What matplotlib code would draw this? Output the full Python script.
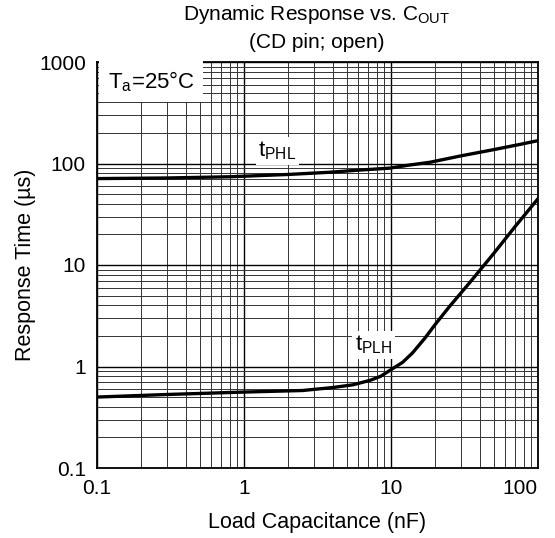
import numpy as np
import matplotlib.pyplot as plt
from matplotlib.ticker import LogLocator, FixedLocator, FixedFormatter

plt.rcParams['font.family'] = ['Liberation Sans', 'DejaVu Sans']

# load capacitance (nF) and response times (us)
c_phl = [0.1, 0.3, 0.8, 2, 3.85, 6, 9.8, 13, 18.5, 30, 50, 75, 100]
t_phl = [71, 72, 74, 78, 82, 86, 90, 96, 103, 119, 137, 154, 168]
c_plh = [0.1, 0.3, 1, 2.5, 4, 5.5, 7.2, 8.5, 10, 12, 14, 17, 20, 25, 34, 50, 70, 100]
t_plh = [0.5, 0.53, 0.56, 0.58, 0.62, 0.66, 0.73, 0.8, 0.93, 1.1, 1.36, 1.9, 2.6, 3.9, 6.6, 13, 24, 45]

xticks = [0.1, 1, 10, 100]
xlabels = ['0.1', '1', '10', '100']
yticks = [0.1, 1, 10, 100, 1000]
ylabels = ['0.1', '1', '10', '100', '1000']

fig = plt.figure(figsize=(5.55, 5.38), dpi=100)
ax = fig.add_axes([97/555, 70/538, 441/555, 406/538])

ax.set_xscale('log')
ax.set_yscale('log')
ax.set_xlim(0.1, 100)
ax.set_ylim(0.1, 1000)

ax.xaxis.set_major_locator(FixedLocator(xticks))
ax.xaxis.set_major_formatter(FixedFormatter(xlabels))
ax.yaxis.set_major_locator(FixedLocator(yticks))
ax.yaxis.set_major_formatter(FixedFormatter(ylabels))
ax.xaxis.set_minor_locator(LogLocator(base=10, subs=np.arange(2, 10)))
ax.yaxis.set_minor_locator(LogLocator(base=10, subs=np.arange(2, 10)))
ax.tick_params(which='both', length=0, labelsize=15, pad=8)

ax.grid(which='major', color='black', lw=1.0)
ax.grid(which='minor', color='#333333', lw=0.7)
ax.set_axisbelow(True)
for s in ax.spines.values():
    s.set_linewidth(1.3)

ax.plot(c_phl, t_phl, color='black', lw=2.4)
ax.plot(c_plh, t_plh, color='black', lw=2.4)

ax.text(1.25, 134, r'$\mathregular{t_{PHL}}$', fontsize=16, ha='left', va='center',
        bbox=dict(facecolor='white', edgecolor='none', pad=2))
ax.text(5.7, 1.63, r'$\mathregular{t_{PLH}}$', fontsize=16, ha='left', va='center',
        bbox=dict(facecolor='white', edgecolor='none', pad=2))
ax.text(0.118, 640, r'$\mathregular{T_a}$=25°C', fontsize=16, ha='left', va='center',
        bbox=dict(facecolor='white', edgecolor='none', pad=6))

ax.set_xlabel('Load Capacitance (nF)', fontsize=15.5, labelpad=10)
ax.set_ylabel('Response Time (µs)', fontsize=15.5, labelpad=2)
fig.text(317/555, 1 - 15/538, r'Dynamic Response vs. $\mathregular{C_{OUT}}$', fontsize=15,
         ha='center', va='center')
fig.text(317/555, 1 - 42/538, '(CD pin; open)', fontsize=15, ha='center', va='center')

# last x label sits inside the right edge, as in the datasheet
ax.xaxis.get_major_ticks()[-1].label1.set_horizontalalignment('right')
ax.xaxis.get_major_ticks()[-1].label1.set_x(1.0)

fig.savefig('out.png', dpi=100)
